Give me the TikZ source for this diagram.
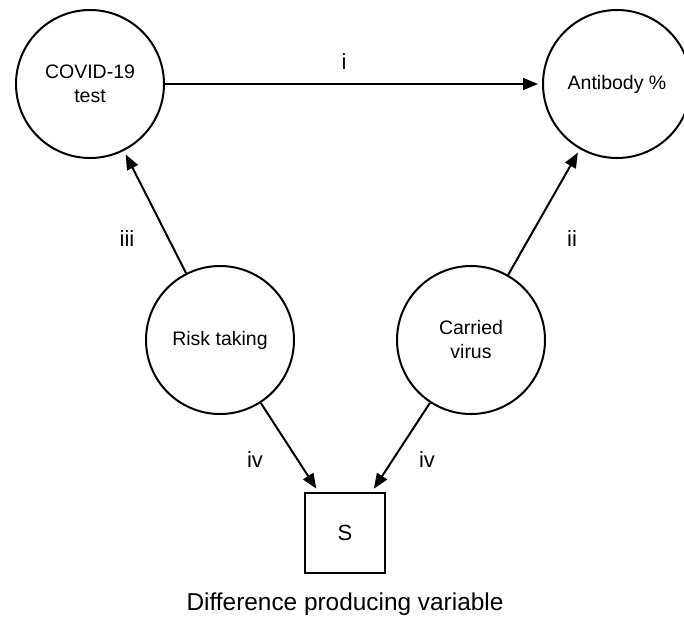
\documentclass[tikz,border=0pt]{standalone}
\usepackage{fontspec}
\setmainfont{Liberation Sans}
\usetikzlibrary{arrows.meta}
\begin{document}
\begin{tikzpicture}[x=1pt,y=-1pt,
  var/.style={circle,draw,line width=2pt,minimum size=148pt,inner sep=0pt,align=center,
    font=\fontsize{19.5}{24}\selectfont},
  sel/.style={rectangle,draw,line width=2pt,minimum size=80pt,inner sep=0pt,
    font=\fontsize{22}{26}\selectfont},
  lab/.style={font=\fontsize{22}{26}\selectfont,inner sep=0pt},
  captiontext/.style={font=\fontsize{24.4}{28}\selectfont,inner sep=0pt},
  conn/.style={line width=2pt,-{Triangle[length=15pt,width=12pt]},shorten >=4pt}]
\useasboundingbox (0,0) rectangle (684,622);
\node[var] (covid) at (90,84) {COVID-19\\test};
\node[var] (anti) at (617,84) {Antibody \%};
\node[var] (risk) at (220,340) {Risk taking};
\node[var] (virus) at (471,340) {Carried\\virus};
\node[sel] (s) at (345,533) {S};
\node[captiontext] (caption) at (345,604) {Difference producing variable};
\draw[conn] (covid) -- (anti);
\draw[conn] (risk) -- (covid);
\draw[conn] (virus) -- (anti);
\draw[conn] (risk) -- (s);
\draw[conn] (virus) -- (s);
\node[lab] (li) at (344,62) {i};
\node[lab] (liii) at (127,239) {iii};
\node[lab] (lii) at (572,239) {ii};
\node[lab] (liv1) at (255,460) {iv};
\node[lab] (liv2) at (427,460) {iv};
\end{tikzpicture}
\end{document}
